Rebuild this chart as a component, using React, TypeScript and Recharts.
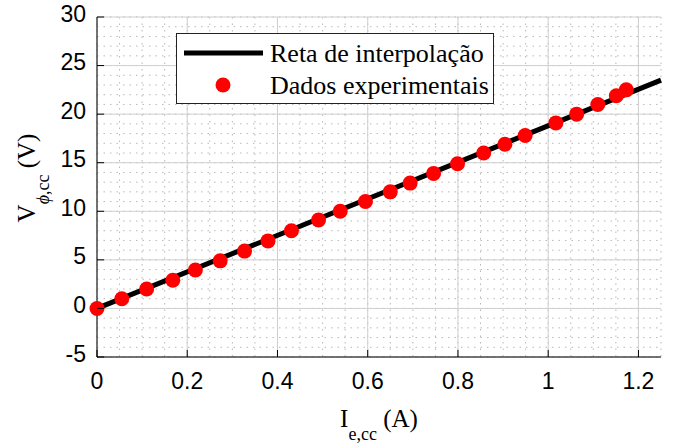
import React from "react";
import {
    ComposedChart,
    Line,
    Scatter,
    XAxis,
    YAxis,
    CartesianGrid,
    Legend,
} from "recharts";

// measured points (field current vs. phase voltage, short circuit)
const currentA = [
    0, 0.055, 0.11, 0.168, 0.218, 0.273, 0.327, 0.379, 0.431, 0.491, 0.539, 0.595,
    0.65, 0.694, 0.746, 0.799, 0.857, 0.904, 0.949, 1.017, 1.063, 1.11, 1.151, 1.173,
];
const voltageV = [
    0, 1, 2, 2.9, 3.95, 4.9, 5.9, 6.95, 8, 9.1, 10, 11,
    12, 12.9, 13.9, 14.9, 16, 16.9, 17.8, 19.1, 20, 21, 21.9, 22.5,
];

// fitted straight line
const fitX = [0, 1.25];
const fitY = [0, 23.5];

const xTicks = [0, 0.2, 0.4, 0.6, 0.8, 1, 1.2];
const yTicks = [-5, 0, 5, 10, 15, 20, 25, 30];

const seriesNames = ["Reta de interpolação", "Dados experimentais"];

const points = currentA.map((x, i) => ({ x, y: voltageV[i] }));
const fitLine = fitX.map((x, i) => ({ x, y: fitY[i] }));

const minorX = Array.from({ length: 26 }, (_, i) => +(i * 0.05).toFixed(2));
const minorY = Array.from({ length: 36 }, (_, i) => i - 5);

const SANS = "'Liberation Sans', Arial, sans-serif";
const SERIF = "'Liberation Serif', 'Times New Roman', serif";
const TICK = 7;

const BottomTick = ({ x, y, payload }: any) => (
    <g>
        <line x1={x} y1={y} x2={x} y2={y - TICK} stroke="#000" />
        <text x={x} y={y + 32} textAnchor="middle" fontFamily={SANS} fontSize={23} fill="#000">
            {payload.value}
        </text>
    </g>
);

const TopTick = ({ x, y }: any) => (
    <line x1={x} y1={y} x2={x} y2={y + TICK} stroke="#000" />
);

const LeftTick = ({ x, y, payload }: any) => (
    <g>
        <line x1={x} y1={y} x2={x + TICK} y2={y} stroke="#000" />
        <text x={x - 11} y={y + 4.5} textAnchor="end" fontFamily={SANS} fontSize={23} fill="#000">
            {payload.value}
        </text>
    </g>
);

const RightTick = ({ x, y }: any) => (
    <line x1={x} y1={y} x2={x - TICK} y2={y} stroke="#000" />
);

const XLabel = ({ viewBox }: any) => {
    const cx = viewBox.x + viewBox.width / 2;
    return (
        <text x={cx} y={427} textAnchor="middle" fontFamily={SERIF} fontSize={25} fill="#000">
            I
            <tspan fontSize={18} dy={13}>e,cc</tspan>
            <tspan dy={-13}> (A)</tspan>
        </text>
    );
};

const YLabel = () => (
    <text
        x={0}
        y={0}
        transform="translate(35,178) rotate(-90)"
        textAnchor="middle"
        fontFamily={SERIF}
        fontSize={25}
        fill="#000"
    >
        V
        <tspan fontSize={18} dy={14} fontStyle="italic">ϕ</tspan>
        <tspan fontSize={18}>,cc</tspan>
        <tspan dy={-14}>  (V)</tspan>
    </text>
);

const LegendBox = ({ payload }: any) => {
    const items = [...(payload || [])].sort(
        (a: any, b: any) => seriesNames.indexOf(a.value) - seriesNames.indexOf(b.value)
    );
    return (
        <div
            style={{
                width: 316,
                height: 69,
                border: "1px solid #222",
                background: "#fff",
            }}
        >
            <svg width={316} height={69} style={{ display: "block" }}>
                {items.map((entry: any, i: number) => {
                    const cy = i === 0 ? 19 : 51;
                    return (
                        <g key={i}>
                            {entry.type === "circle" ? (
                                <circle cx={46} cy={cy} r={7.5} fill="#ff0000" />
                            ) : (
                                <line x1={7} y1={cy} x2={86} y2={cy} stroke="#000" strokeWidth={5} />
                            )}
                            <text x={93} y={cy + 9} fontFamily={SERIF} fontSize={26} fill="#000">
                                {entry.value}
                            </text>
                        </g>
                    );
                })}
            </svg>
        </div>
    );
};

export default function App() {
    return (
        <div style={{ position: "absolute", left: 0, top: 0, background: "#fff" }}>
            <ComposedChart
                width={686}
                height={445}
                margin={{ top: 17, right: 25, left: 0, bottom: 0 }}
            >
                <CartesianGrid
                    verticalValues={minorX}
                    horizontalValues={minorY}
                    stroke="#b8b8b8"
                    strokeDasharray="1.5 5"
                />
                <CartesianGrid
                    verticalValues={xTicks}
                    horizontalValues={yTicks}
                    stroke="#cfcfcf"
                    strokeDasharray="0"
                />
                <XAxis
                    dataKey="x"
                    type="number"
                    domain={[0, 1.25]}
                    ticks={xTicks}
                    interval={0}
                    height={88}
                    tickSize={0}
                    tickMargin={0}
                    tickLine={false}
                    axisLine={{ stroke: "#000" }}
                    tick={<BottomTick />}
                    label={<XLabel />}
                />
                <XAxis
                    xAxisId="top"
                    orientation="top"
                    type="number"
                    domain={[0, 1.25]}
                    ticks={xTicks}
                    interval={0}
                    allowDataOverflow
                    height={0}
                    tickSize={0}
                    tickMargin={0}
                    tickLine={false}
                    axisLine={{ stroke: "#000" }}
                    tick={<TopTick />}
                />
                <YAxis
                    type="number"
                    domain={[-5, 30]}
                    ticks={yTicks}
                    interval={0}
                    width={97}
                    tickSize={0}
                    tickMargin={0}
                    tickLine={false}
                    axisLine={{ stroke: "#000" }}
                    tick={<LeftTick />}
                    label={<YLabel />}
                />
                <YAxis
                    yAxisId="right"
                    orientation="right"
                    type="number"
                    domain={[-5, 30]}
                    ticks={yTicks}
                    interval={0}
                    allowDataOverflow
                    width={0}
                    tickSize={0}
                    tickMargin={0}
                    tickLine={false}
                    axisLine={{ stroke: "#000" }}
                    tick={<RightTick />}
                />
                <Legend
                    layout="horizontal"
                    verticalAlign="middle"
                    align="center"
                    content={<LegendBox />}
                    wrapperStyle={{ left: 176, top: 33, width: 318, height: 71 }}
                />
                <Line
                    name={seriesNames[0]}
                    data={fitLine}
                    dataKey="y"
                    stroke="#000"
                    strokeWidth={5}
                    dot={false}
                    legendType="line"
                    isAnimationActive={false}
                />
                <Scatter
                    name={seriesNames[1]}
                    data={points}
                    dataKey="y"
                    fill="#ff0000"
                    legendType="circle"
                    shape={(p: any) => <circle cx={p.cx} cy={p.cy} r={7.5} fill="#ff0000" />}
                    isAnimationActive={false}
                />
            </ComposedChart>
        </div>
    );
}
